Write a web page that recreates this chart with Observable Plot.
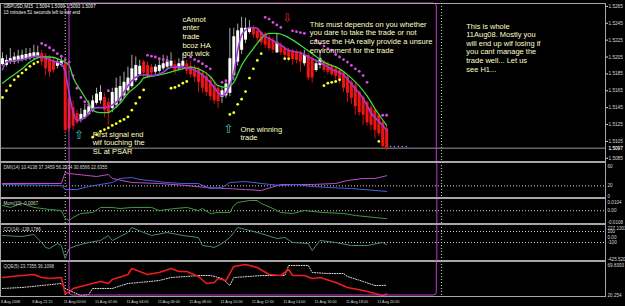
<!DOCTYPE html>
<html>
<head>
<meta charset="utf-8">
<script src="https://cdn.jsdelivr.net/npm/d3@7"></script>
<script src="https://cdn.jsdelivr.net/npm/@observablehq/plot@0.6"></script>
<style>
  html, body { margin: 0; padding: 0; background: #000; }
  #chart { position: relative; width: 625px; height: 306px; background: #000; overflow: hidden; }
</style>
</head>
<body>
<div id="chart"></div>
<script>
// ---------- DATA (GBPUSD M15, Heiken Ashi bars, index 0 = 8 Aug 19:15) ----------
const haOpen = [1.5196,1.5195,1.5199,1.5199,1.5200,1.5201,1.5202,1.5203,1.5205,1.5206,
  1.5209,1.5206,1.5203,1.5201,1.5194,1.5195,1.5197,1.5156,1.5145,1.5138,
  1.5130,1.5133,1.5137,1.5142,1.5150,1.5153,1.5157,1.5151,1.5144,1.5148,
  1.5153,1.5159,1.5165,1.5170,1.5177,1.5184,1.5199,1.5195,1.5193,1.5187,
  1.5188,1.5191,1.5193,1.5194,1.5196,1.5191,1.5194,1.5197,1.5194,1.5191,
  1.5189,1.5186,1.5182,1.5177,1.5171,1.5168,1.5157,1.5159,1.5162,1.5183,
  1.5199,1.5213,1.5225,1.5234,1.5239,1.5236,1.5234,1.5232,1.5228,1.5225,
  1.5210,1.5219,1.5215,1.5213,1.5212,1.5210,1.5209,1.5197,1.5207,1.5203,
  1.5189,1.5195,1.5199,1.5196,1.5194,1.5191,1.5189,1.5186,1.5181,1.5175,
  1.5171,1.5163,1.5157,1.5151,1.5145,1.5142,1.5136,1.5127,1.5120];
const haClose = [1.5203,1.5201,1.5203,1.5205,1.5206,1.5207,1.5208,1.5209,1.5210,1.5210,
  1.5199,1.5191,1.5187,1.5189,1.5199,1.5200,1.5118,1.5120,1.5123,1.5127,
  1.5137,1.5142,1.5146,1.5153,1.5161,1.5163,1.5142,1.5138,1.5163,1.5168,
  1.5170,1.5175,1.5180,1.5191,1.5195,1.5194,1.5186,1.5183,1.5186,1.5193,
  1.5195,1.5197,1.5199,1.5200,1.5188,1.5197,1.5200,1.5188,1.5184,1.5181,
  1.5175,1.5168,1.5163,1.5158,1.5153,1.5152,1.5165,1.5173,1.5203,1.5229,
  1.5236,1.5239,1.5239,1.5240,1.5231,1.5227,1.5222,1.5219,1.5215,1.5213,
  1.5222,1.5210,1.5207,1.5205,1.5202,1.5201,1.5199,1.5207,1.5180,1.5180,
  1.5197,1.5203,1.5189,1.5187,1.5184,1.5182,1.5177,1.5168,1.5162,1.5156,
  1.5146,1.5139,1.5136,1.5127,1.5124,1.5118,1.5114,1.5099,1.5097];
const haHigh = [1.5210,1.5207,1.5215,1.5210,1.5213,1.5213,1.5215,1.5215,1.5219,1.5218,
  1.5213,1.5209,1.5207,1.5205,1.5203,1.5205,1.5201,1.5159,1.5153,1.5142,
  1.5144,1.5149,1.5153,1.5159,1.5168,1.5171,1.5162,1.5156,1.5168,1.5180,
  1.5182,1.5187,1.5193,1.5207,1.5205,1.5201,1.5201,1.5199,1.5196,1.5196,
  1.5201,1.5207,1.5206,1.5210,1.5201,1.5203,1.5209,1.5201,1.5199,1.5195,
  1.5193,1.5189,1.5187,1.5181,1.5175,1.5171,1.5169,1.5177,1.5239,1.5239,
  1.5244,1.5252,1.5251,1.5248,1.5242,1.5239,1.5236,1.5234,1.5231,1.5227,
  1.5233,1.5222,1.5218,1.5215,1.5214,1.5213,1.5212,1.5213,1.5209,1.5206,
  1.5201,1.5213,1.5201,1.5199,1.5196,1.5194,1.5191,1.5188,1.5183,1.5177,
  1.5174,1.5165,1.5159,1.5153,1.5148,1.5144,1.5138,1.5130,1.5123];
const haLow = [1.5194,1.5193,1.5196,1.5196,1.5197,1.5199,1.5200,1.5201,1.5202,1.5203,
  1.5194,1.5183,1.5181,1.5186,1.5191,1.5193,1.5114,1.5116,1.5118,1.5125,
  1.5127,1.5131,1.5135,1.5139,1.5148,1.5149,1.5133,1.5124,1.5139,1.5144,
  1.5150,1.5156,1.5163,1.5168,1.5175,1.5182,1.5180,1.5180,1.5183,1.5184,
  1.5186,1.5189,1.5190,1.5191,1.5184,1.5189,1.5191,1.5184,1.5180,1.5175,
  1.5163,1.5162,1.5158,1.5153,1.5149,1.5144,1.5150,1.5156,1.5158,1.5177,
  1.5194,1.5208,1.5221,1.5232,1.5227,1.5223,1.5218,1.5215,1.5212,1.5209,
  1.5209,1.5207,1.5203,1.5199,1.5195,1.5197,1.5187,1.5194,1.5177,1.5174,
  1.5187,1.5191,1.5187,1.5184,1.5182,1.5178,1.5173,1.5163,1.5151,1.5149,
  1.5136,1.5135,1.5124,1.5123,1.5118,1.5108,1.5111,1.5097,1.5094];

// fast (purple) and slow (green) moving averages: [bar, price]
const maFast = [[0,1.5190],[1,1.5199],[5,1.5202],[9,1.5206],[10,1.5205],[13,1.5200],[15,1.5197],[16,1.5187],[17,1.5162],[18,1.5140],[19,1.5130],[21,1.5133],[22,1.5139],[24,1.5145],[26,1.5145],[28,1.5148],[30,1.5156],[32,1.5171],[34,1.5181],[36,1.5184],[38,1.5183],[41,1.5187],[43,1.5193],[46,1.5193],[48,1.5191],[50,1.5187],[53,1.5175],[55,1.5163],[56,1.5159],[57,1.5162],[58,1.5172],[59,1.5186],[60,1.5213],[61,1.5231],[62,1.5237],[63,1.5240],[65,1.5239],[66,1.5233],[68,1.5227],[71,1.5219],[73,1.5213],[76,1.5210],[79,1.5203],[82,1.5196],[84,1.5190],[87,1.5184],[89,1.5173],[92,1.5156],[94,1.5139],[97,1.5124],[98,1.5118]];
const maSlow = [[0,1.5174],[2,1.5181],[5,1.5191],[7,1.5199],[10,1.5205],[12,1.5205],[15,1.5201],[17,1.5195],[18,1.5181],[20,1.5165],[22,1.5150],[23,1.5142],[25,1.5139],[27,1.5139],[28,1.5142],[30,1.5150],[32,1.5162],[35,1.5174],[36,1.5180],[39,1.5183],[42,1.5186],[46,1.5191],[48,1.5193],[50,1.5191],[53,1.5182],[55,1.5171],[57,1.5169],[59,1.5175],[61,1.5195],[64,1.5215],[66,1.5227],[68,1.5233],[70,1.5233],[73,1.5228],[76,1.5219],[79,1.5209],[82,1.5199],[86,1.5191],[89,1.5180],[93,1.5159],[95,1.5144],[98,1.5124]];

// PSAR dots: [bar, price]
const sarHigh = [[10,1.5221],[11,1.5219],[12,1.5216],[13,1.5213],[14,1.5209],[15,1.5206],[16,1.5202],[17,1.5199],[18,1.5183],[19,1.5168],[20,1.5157],[21,1.5152],[22,1.5149],[27,1.5165],
  [37,1.5207],[38,1.5206],[39,1.5205],[40,1.5203],[41,1.5202],[42,1.5201],
  [48,1.5205],[49,1.5202],[50,1.5200],[51,1.5197],[52,1.5194],[53,1.5191],[56,1.5175],[57,1.5177],
  [67,1.5252],[68,1.5250],[69,1.5246],[70,1.5243],[71,1.5240],[74,1.5236],[75,1.5235],[76,1.5234],[77,1.5233],
  [80,1.5225],[81,1.5221],[82,1.5218],[83,1.5215],[84,1.5213],[85,1.5208],[86,1.5205],[87,1.5202],[88,1.5199],[89,1.5195],[90,1.5191],[91,1.5188],[92,1.5183],[93,1.5175],[97,1.5136],[98,1.5136]];
const sarLow = [[0,1.5157],[1,1.5165],[2,1.5171],[3,1.5178],[4,1.5182],[5,1.5186],[6,1.5190],[7,1.5194],[8,1.5197],[9,1.5199],
  [23,1.5110],[24,1.5113],[25,1.5117],[26,1.5119],[27,1.5121],[28,1.5124],[29,1.5126],[30,1.5129],[31,1.5131],[32,1.5134],[33,1.5142],[34,1.5150],[35,1.5157],[36,1.5166],
  [43,1.5168],[44,1.5169],[45,1.5171],[46,1.5174],[47,1.5176],
  [58,1.5137],[59,1.5139],[60,1.5149],[61,1.5155],[62,1.5164],[63,1.5180],[64,1.5191],[65,1.5201],[66,1.5209],
  [72,1.5203],[73,1.5203],[82,1.5171],[83,1.5174],[84,1.5175],[85,1.5176],[86,1.5178],[96,1.5105]];
const sarNext = [[99,1.5099],[100,1.5099],[101,1.5099],[102,1.5099],[103,1.5099]];

const bidPrice = 1.5097;
const priceTicks = [1.5265,1.5245,1.5225,1.5205,1.5185,1.5165,1.5145,1.5125,1.5105,1.5085];
const headerLines = ["GBPUSD,M15  1.5094 1.5099 1.5093 1.5097", "13 minutes 51 seconds left to bar end"];

const daySeparators = [16, 112];
const dayBox = {from: 17.1, to: 110.8};

const noteText = [
  "First signal end\nwif touching the\nSL at PSAR",
  "cAnnot\nenter\ntrade\nbcoz HA\ngot wick",
  "One winning\ntrade",
  "This must depends on you whether\nyou dare to take the trade or not\ncause the HA really provide a unsure\nenvironment for the trade",
  "This is whole\n11Aug08. Mostly you\nwill end up wif losing if\nyou cant manage the\ntrade well... Let us\nsee H1..."
];
const noteBar = [23, 45.9, 60.7, 78.4, 118.3];
const notePrice = [1.5118, 1.5254, 1.5124, 1.5248, 1.5246];
const arrowUp = [[19.6, 1.5112], [57.7, 1.5120]];
const arrowDown = [[72.7, 1.5251]];

// DMI(14)
const dmiTitle = "DMI(14) 10.4138 37.3459 56.2934 30.6566 22.6355";
const dmiLevels = [60, 20, 0];
const dmiLevelLabels = ["60", "20", "0"];
const dmiDotted = [20];
const dmiPlus = [[0,22.3],[15,20.6],[16,13.7],[19,13.7],[22,18.9],[25,22.3],[28,25.7],[30,32.6],[33,34.3],[35,30.9],[42,25.7],[46,24.0],[50,24.0],[53,15.4],[56,17.1],[58,25.7],[62,27.4],[66,24.0],[71,20.6],[75,22.3],[79,18.9],[83,17.1],[89,15.4],[98,10.41]];
const dmiMinus = [[0,24.0],[15,24.0],[16,42.9],[17,41.1],[24,36.0],[27,39.4],[28,32.6],[33,25.7],[40,24.0],[47,20.6],[52,17.1],[57,15.4],[62,13.7],[66,12.0],[71,22.3],[79,22.3],[85,24.0],[88,29.1],[92,32.6],[95,32.6],[98,37.35]];

// Momentum(10)
const momTitle = "Mom(10) -0.0067";
const momLevels = [0.0104, 0, -0.0108];
const momLevelLabels = ["0.0104", "0.00", "-0.0108"];
const momDotted = [0];
const mom = [[0,0.0045],[2,0.0028],[5,0.0062],[8,0.0028],[12,0.0011],[15,0.0002],[16,-0.0066],[17,-0.0083],[18,-0.0057],[20,-0.0023],[23,-0.0015],[25,0.0028],[28,0.0028],[30,0.0019],[33,0.0028],[38,0.0028],[40,0.0002],[44,0.0019],[47,0.0028],[50,0.0002],[51,0.0019],[53,-0.0023],[55,-0.0015],[58,-0.0015],[59,0.0045],[60,0.0070],[63,0.0087],[65,0.0087],[66,0.0062],[69,0.0019],[71,-0.0015],[74,-0.0023],[77,0.0002],[82,-0.0015],[87,-0.0023],[90,-0.0040],[95,-0.0057],[98,-0.0067]];

// CCI(14)
const cciTitle = "CCI(14) -138.1786";
const cciLevels = [227.1303, 100, 0, -100, -425.5203];
const cciLevelLabels = ["227.1303", "100", "0.00", "-100", "-425.5203"];
const cciDotted = [100, -100];
const cci = [[0,27.7],[5,9.6],[8,46],[10,-99],[11,-190],[12,-208],[14,-117],[15,-154],[16,-389],[17,-208],[19,-154],[22,-99],[25,-63],[27,28],[28,-63],[32,82],[33,173],[36,82],[38,28],[42,82],[46,28],[50,-9],[51,-154],[53,-172],[54,-190],[56,-117],[58,-9],[60,173],[61,155],[66,64],[70,-27],[72,-9],[74,-99],[78,-117],[79,-244],[81,-63],[85,-99],[89,-154],[93,-154],[97,-99],[98,-138.2]];

// QQE(5)
const qqeTitle = "QQE(5) 23.7355 36.1098";
const qqeLevels = [69.8393, 20.254];
const qqeLevelLabels = ["69.8393", "20.254"];
const qqeFast = [[0,47.2],[5,50.0],[8,51.4],[10,47.2],[12,45.8],[15,47.2],[16,24.5],[17,25.9],[18,31.6],[19,33.0],[22,37.3],[25,41.5],[27,38.7],[28,44.3],[32,51.4],[33,59.9],[37,51.4],[40,54.3],[43,59.9],[45,55.7],[47,55.7],[50,48.6],[52,38.7],[54,40.1],[55,45.8],[57,42.9],[59,62.8],[62,65.6],[65,61.3],[68,51.4],[71,50.0],[73,58.5],[74,50.0],[77,50.0],[79,45.8],[81,47.2],[85,40.1],[88,33.0],[92,28.8],[95,24.5],[97,21.7],[98,23.74]];
const qqeSlow = [[0,31.6],[5,33.0],[10,35.8],[15,38.7],[16,31.6],[17,28.8],[20,21.7],[22,23.1],[23,31.6],[28,31.6],[32,38.7],[35,40.1],[40,42.9],[43,47.2],[47,48.6],[50,50.0],[53,50.0],[56,45.8],[58,35.8],[59,47.2],[63,48.6],[66,50.0],[72,50.0],[73,64.2],[78,64.2],[79,54.3],[83,52.8],[87,52.8],[88,48.6],[92,41.5],[95,35.8],[98,36.11]];

// time axis
const dateTicks = [0, 8, 16, 24, 32, 40, 48, 56, 64, 72, 80, 88, 96];
const dateLabels = ["8 Aug 2008","8 Aug 21:15","11 Aug 00:00","11 Aug 02:00","11 Aug 04:00","11 Aug 06:00","11 Aug 08:00","11 Aug 10:00","11 Aug 12:00","11 Aug 14:00","11 Aug 16:00","11 Aug 18:00","11 Aug 20:00"];

// ---------- RENDER ----------
const FONT = "'Liberation Sans', Arial, sans-serif";
const FRAME = "#a6a6a6";
const BOX = "#c23ad2";
const LABEL = "#d8d8d8";
const DOTTED = {stroke: "#d0d0d0", strokeDasharray: "1,2"};
const chart = document.getElementById("chart");
const px = d => d[0], py = d => d[1];

function addPanel(top, height, mt, mb, yDomain, marks) {
  const svg = Plot.plot({
    width: 625, height,
    marginLeft: 0, marginRight: 20, marginTop: mt, marginBottom: mb,
    x: {domain: [-0.51, 153.83], axis: null},
    y: {domain: yDomain, axis: null},
    marks
  });
  Object.assign(svg.style, {
    position: "absolute", left: "0px", top: top + "px", background: "transparent",
    overflow: "hidden", color: LABEL, fontFamily: FONT, maxWidth: "none"
  });
  chart.appendChild(svg);
}

function levelMarks(vals, labels) {
  const rows = vals.map((v, k) => ({v, t: labels[k]}));
  const n = rows.length;
  const base = {y: "v", text: "t", frameAnchor: "right", dx: 2, textAnchor: "start", fontSize: 4.6, fill: LABEL, fontFamily: FONT};
  return [
    Plot.text(rows.slice(0, 1), {...base, lineAnchor: "top", dy: 2}),
    Plot.text(rows.slice(1, n - 1), {...base, lineAnchor: "middle"}),
    Plot.text(rows.slice(n - 1), {...base, lineAnchor: "bottom"})
  ];
}
function title(t) {
  return Plot.text([t], {text: d => d, frameAnchor: "top-left", dx: 3, dy: 3, lineAnchor: "top", fontSize: 4.5, fill: LABEL, fontFamily: FONT});
}

const bars = haOpen.map((o, i) => ({i, open: o, high: haHigh[i], low: haLow[i], close: haClose[i]}));
const upBars = bars.filter(d => d.close >= d.open);
const dnBars = bars.filter(d => d.close < d.open);
const notes = noteText.map((t, k) => ({t, i: noteBar[k], p: notePrice[k]}));

// main price window
addPanel(0, 162, 3, 1, [1.50812, 1.52684], [
  Plot.ruleX(daySeparators, DOTTED),
  Plot.ruleY([bidPrice], {stroke: "#9a9a9a"}),
  Plot.ruleX(upBars, {x: "i", y1: "low", y2: "high", stroke: "#a8a8a8"}),
  Plot.ruleX(dnBars, {x: "i", y1: "low", y2: "high", stroke: "#d01010"}),
  Plot.ruleX(upBars, {x: "i", y1: "open", y2: "close", stroke: "#ffffff", strokeWidth: 3}),
  Plot.ruleX(dnBars, {x: "i", y1: "open", y2: "close", stroke: "#f01414", strokeWidth: 3}),
  Plot.line(maSlow, {x: px, y: py, stroke: "#3fd93f", strokeWidth: 1.3, curve: "monotone-x"}),
  Plot.line(maFast, {x: px, y: py, stroke: "#a43ad6", strokeWidth: 1.6, curve: "monotone-x"}),
  Plot.dot(sarHigh, {x: px, y: py, r: 1.4, fill: "#d94ce8"}),
  Plot.dot(sarLow, {x: px, y: py, r: 1.4, fill: "#ffff20"}),
  Plot.dot(sarNext, {x: px, y: py, r: 0.8, fill: "#b070ff"}),
  Plot.rect([dayBox], {x1: "from", x2: "to", stroke: BOX, fill: "none", rx: 3, insetBottom: -20}),
  Plot.text(notes, {x: "i", y: "p", text: "t", textAnchor: "start", lineAnchor: "top", lineHeight: 1.15, fontSize: 7.5, fill: "#ffffc4", fontFamily: FONT}),
  Plot.text(arrowUp, {x: px, y: py, text: () => "\u21E7", fontSize: 12, fill: "#46c4c4", fontFamily: "DejaVu Sans"}),
  Plot.text(arrowDown, {x: px, y: py, text: () => "\u21E9", fontSize: 12, fill: "#d42a2a", fontFamily: "DejaVu Sans"}),
  Plot.text([headerLines.join("\n")], {text: d => d, frameAnchor: "top-left", dx: 3, dy: 1, lineAnchor: "top", lineHeight: 1.2, fontSize: 4.6, fill: "#f2f2f2", fontFamily: FONT}),
  Plot.axisY({anchor: "right", ticks: priceTicks, tickFormat: d3.format(".4f"), tickSize: 2, tickPadding: 1, fontSize: 4.7, fontFamily: FONT}),
  Plot.text([bidPrice], {y: d => d, text: d => d3.format(".4f")(d), frameAnchor: "right", dx: 3, textAnchor: "start", fontSize: 4.7, fill: "#ffffff", stroke: "#555", strokeWidth: 0.3, fontFamily: FONT}),
  Plot.frame({stroke: FRAME})
]);

// DMI
addPanel(161, 37, 1, 1, [0, 60], [
  Plot.ruleX(daySeparators, DOTTED),
  Plot.ruleY(dmiDotted, DOTTED),
  Plot.line(dmiMinus, {x: px, y: py, stroke: "#c04cc8", strokeWidth: 1}),
  Plot.line(dmiPlus, {x: px, y: py, stroke: "#4a5ee0", strokeWidth: 1}),
  Plot.ruleX([dayBox.from, dayBox.to], {stroke: BOX}),
  title(dmiTitle),
  ...levelMarks(dmiLevels, dmiLevelLabels),
  Plot.frame({stroke: FRAME})
]);

// Momentum
addPanel(197, 27, 1, 1, [d3.min(momLevels), d3.max(momLevels)], [
  Plot.ruleX(daySeparators, DOTTED),
  Plot.ruleY(momDotted, DOTTED),
  Plot.line(mom, {x: px, y: py, stroke: "#3f9a3f", strokeWidth: 1}),
  Plot.ruleX([dayBox.from, dayBox.to], {stroke: BOX}),
  title(momTitle),
  ...levelMarks(momLevels, momLevelLabels),
  Plot.frame({stroke: FRAME})
]);

// CCI
addPanel(223, 38, 1, 1, [d3.min(cciLevels), d3.max(cciLevels)], [
  Plot.ruleX(daySeparators, DOTTED),
  Plot.ruleY(cciDotted, DOTTED),
  Plot.line(cci, {x: px, y: py, stroke: "#4a8c6a", strokeWidth: 1}),
  Plot.ruleX([dayBox.from, dayBox.to], {stroke: BOX}),
  title(cciTitle),
  ...levelMarks(cciLevels, cciLevelLabels),
  Plot.frame({stroke: FRAME})
]);

// QQE + time axis
addPanel(260, 46, 1, 10, [d3.min(qqeLevels), d3.max(qqeLevels)], [
  Plot.ruleX(daySeparators, DOTTED),
  Plot.line(qqeSlow, {x: px, y: py, stroke: "#e0e0e0", strokeWidth: 1, strokeDasharray: "1,1.5"}),
  Plot.line(qqeFast, {x: px, y: py, stroke: "#ee1c1c", strokeWidth: 1.6}),
  Plot.rect([dayBox], {x1: "from", x2: "to", stroke: BOX, fill: "none", rx: 3, insetTop: -20, insetBottom: 1}),
  title(qqeTitle),
  ...levelMarks(qqeLevels, qqeLevelLabels),
  Plot.text(dateTicks, {x: d => d, text: (d, k) => dateLabels[k], frameAnchor: "bottom", lineAnchor: "top", dy: 3.5, dx: -1.5, textAnchor: "start", fontSize: 3.8, fill: LABEL, fontFamily: FONT}),
  Plot.frame({stroke: FRAME})
]);
</script>
</body>
</html>
